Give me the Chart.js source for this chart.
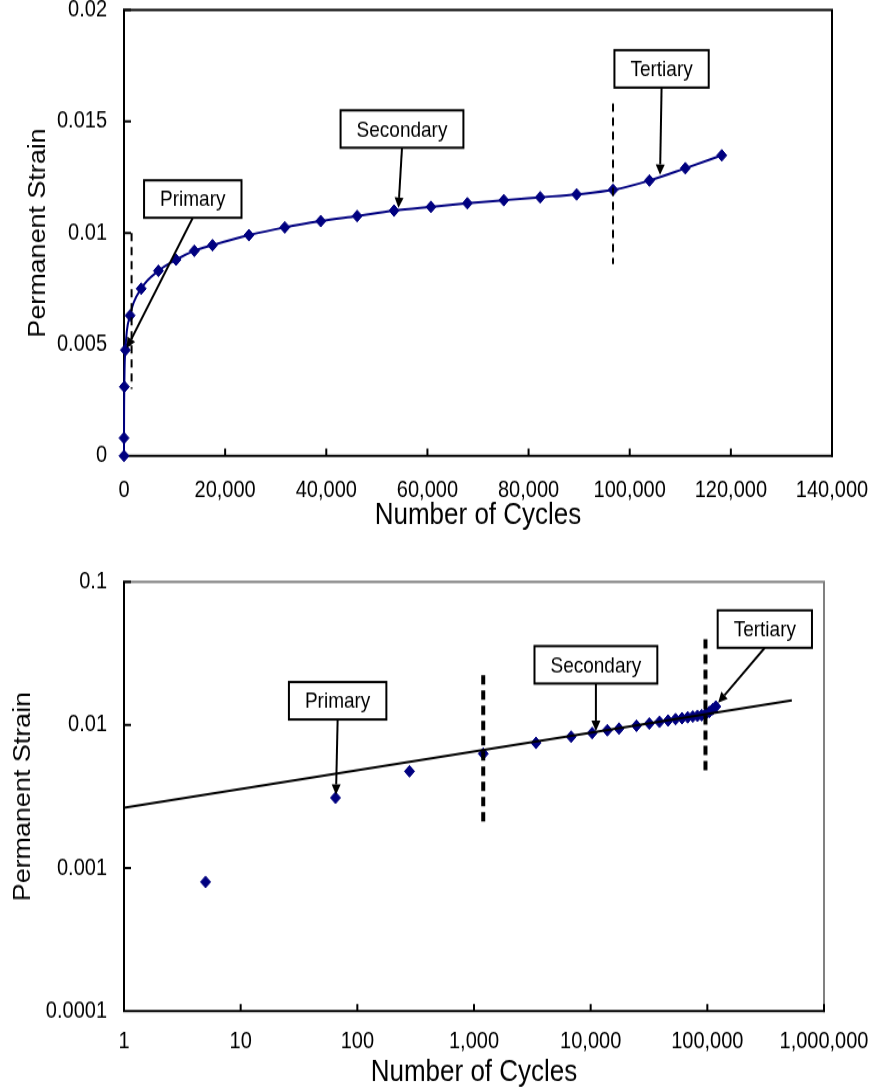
<!DOCTYPE html>
<html>
<head>
<meta charset="utf-8">
<script src="https://cdn.jsdelivr.net/npm/chart.js@4.4.1/dist/chart.umd.min.js"></script>
<style>
  html, body { margin: 0; padding: 0; background: #fff; overflow: hidden; }
  canvas { display: block; }
</style>
</head>
<body>
<canvas id="linear-chart" width="873" height="466"></canvas>
<canvas id="log-chart" width="873" height="470"></canvas>
<script>
// Permanent strain against load cycles
const cycles = [0, 5, 65, 280, 1200, 3400, 6800, 10300, 13900, 17500, 24700, 31800,
  38900, 46100, 53400, 60700, 67900, 75100, 82300, 89500, 96700, 103900, 111000, 118200];
const strain = [0, 0.0008, 0.0031, 0.00475, 0.0063, 0.0075, 0.0083, 0.0088, 0.0092, 0.00945,
  0.0099, 0.01025, 0.01053, 0.01076, 0.011, 0.01117, 0.01133, 0.01147, 0.0116, 0.01173,
  0.01193, 0.01235, 0.0129, 0.01348];

// power-law trend on the log-log view
const trendCycles = [1, 530000];
const trendStrain = [0.00264, 0.0149];

const linCycleTicks = [0, 20000, 40000, 60000, 80000, 100000, 120000, 140000];
const linCycleLabels = ["0", "20,000", "40,000", "60,000", "80,000", "100,000", "120,000", "140,000"];
const linStrainTicks = [0, 0.005, 0.01, 0.015, 0.02];
const linStrainLabels = ["0", "0.005", "0.01", "0.015", "0.02"];
const logCycleTicks = [1, 10, 100, 1000, 10000, 100000, 1000000];
const logCycleLabels = ["1", "10", "100", "1,000", "10,000", "100,000", "1,000,000"];
const logStrainTicks = [0.0001, 0.001, 0.01, 0.1];
const logStrainLabels = ["0.0001", "0.001", "0.01", "0.1"];

const stageNames = ["Primary", "Secondary", "Tertiary"];

// stage boundaries: cycle count and strain span of the dashed marker
const linBoundCycles = [1500, 96700];
const linBoundStrain = [[0.003, 0.01], [0.0086, 0.0158]];
const logBoundCycles = [1200, 96400];
const logBoundStrain = [[0.00194, 0.0223], [0.00455, 0.0398]];

// callout box centres and arrow tips, one per stage
const linLabelAt = [[13600, 0.01152], [54970, 0.01466], [106300, 0.01736]];
const linArrowTip = [[530, 0.00483], [54270, 0.01112], [106000, 0.0126]];
const logLabelAt = [[67.8, 0.01479], [11090, 0.02636], [311000, 0.0469]];
const logArrowTip = [[65.6, 0.00325], [11090, 0.00908], [123800, 0.01432]];

const SY = 1.17; // both canvases are stretched vertically by this factor
const FONT = "'Liberation Sans', Arial, sans-serif";
const NAVY = "#000080";

// plot frame plus tick marks pointing into the plot
function framePlugin(sideColor) {
  return {
    id: "frame",
    beforeDatasetsDraw(chart) {
      const { ctx, chartArea: a, scales: { x, y } } = chart;
      ctx.save();
      ctx.lineWidth = 2;
      ctx.lineCap = "square";
      ctx.strokeStyle = sideColor;
      ctx.beginPath();
      ctx.moveTo(a.left, a.top);
      ctx.lineTo(a.right, a.top);
      ctx.lineTo(a.right, a.bottom);
      ctx.stroke();
      ctx.strokeStyle = "#000";
      ctx.beginPath();
      ctx.moveTo(a.left, a.top);
      ctx.lineTo(a.left, a.bottom);
      ctx.lineTo(a.right, a.bottom);
      y.ticks.forEach((t) => {
        const p = y.getPixelForValue(t.value);
        ctx.moveTo(a.left, p);
        ctx.lineTo(a.left + 6, p);
      });
      x.ticks.forEach((t) => {
        const p = x.getPixelForValue(t.value);
        ctx.moveTo(p, a.bottom);
        ctx.lineTo(p, a.bottom - 6 / SY);
      });
      ctx.stroke();
      ctx.restore();
    },
  };
}

// dashed stage boundaries and the boxed stage callouts
function stagePlugin(boundCycles, boundStrain, dashWidth, dash, labelAt, arrowTip) {
  return {
    id: "stages",
    afterDatasetsDraw(chart) {
      const { ctx, scales: { x, y } } = chart;
      ctx.save();
      ctx.strokeStyle = "#000";
      ctx.lineWidth = dashWidth;
      ctx.setLineDash(dash);
      boundCycles.forEach((c, i) => {
        const px = x.getPixelForValue(c);
        ctx.beginPath();
        ctx.moveTo(px, y.getPixelForValue(boundStrain[i][1]));
        ctx.lineTo(px, y.getPixelForValue(boundStrain[i][0]));
        ctx.stroke();
      });
      ctx.setLineDash([]);
      ctx.font = `19px ${FONT}`;
      ctx.textAlign = "center";
      ctx.textBaseline = "middle";
      ctx.lineWidth = 2;
      stageNames.forEach((name, i) => {
        const cx = x.getPixelForValue(labelAt[i][0]);
        const cy = y.getPixelForValue(labelAt[i][1]);
        const w = ctx.measureText(name).width + 32;
        const h = 32;
        const sx = cx;
        const sy = cy + h / 2;
        const tx = x.getPixelForValue(arrowTip[i][0]);
        const ty = y.getPixelForValue(arrowTip[i][1]);
        const ang = Math.atan2(ty - sy, tx - sx);
        const len = 9;
        const half = 4.5;
        const bx = tx - len * Math.cos(ang);
        const by = ty - len * Math.sin(ang);
        ctx.fillStyle = "#000";
        ctx.beginPath();
        ctx.moveTo(sx, sy);
        ctx.lineTo(bx, by);
        ctx.stroke();
        ctx.beginPath();
        ctx.moveTo(tx, ty);
        ctx.lineTo(bx + half * Math.sin(ang), by - half * Math.cos(ang));
        ctx.lineTo(bx - half * Math.sin(ang), by + half * Math.cos(ang));
        ctx.closePath();
        ctx.fill();
        ctx.fillStyle = "#fff";
        ctx.fillRect(cx - w / 2, cy - h / 2, w, h);
        ctx.strokeRect(cx - w / 2, cy - h / 2, w, h);
        ctx.fillStyle = "#000";
        ctx.fillText(name, cx, cy + 1);
      });
      ctx.restore();
    },
  };
}

function axis(type, min, max, values, labels, opts) {
  return {
    type,
    min,
    max,
    grid: { display: false, drawTicks: false },
    border: { display: false },
    afterBuildTicks: (s) => {
      s.ticks = values.map((v) => ({ value: v }));
    },
    afterFit: (s) => {
      if (opts.width) s.width = opts.width;
      if (opts.height) s.height = opts.height;
      // the plot area is placed by the layout padding alone
      s.paddingTop = s.paddingBottom = s.paddingLeft = s.paddingRight = 0;
    },
    ticks: {
      color: "#000",
      font: { family: FONT, size: 20 },
      padding: opts.tickPad,
      autoSkip: false,
      maxRotation: 0,
      callback: (v, i) => labels[i],
    },
    title: {
      display: true,
      text: opts.title,
      color: "#000",
      font: { family: FONT, size: opts.titleSize },
      padding: opts.titlePad,
    },
  };
}

function stretch(canvas) {
  canvas.style.width = canvas.width + "px";
  canvas.style.height = canvas.height * SY + "px";
}

const baseOptions = {
  responsive: false,
  animation: false,
  events: [],
  plugins: { legend: { display: false }, tooltip: { enabled: false } },
};

const points = cycles.map((c, i) => ({ x: c, y: strain[i] }));

// linear view
const linCanvas = document.getElementById("linear-chart");
stretch(linCanvas);
new Chart(linCanvas.getContext("2d"), {
  type: "scatter",
  data: {
    datasets: [
      {
        data: points,
        showLine: true,
        borderColor: NAVY,
        borderWidth: 2,
        backgroundColor: NAVY,
        pointStyle: "rectRot",
        pointRadius: 5,
        pointBorderWidth: 1,
        tension: 0.4,
        cubicInterpolationMode: "monotone",
        clip: false,
      },
    ],
  },
  options: {
    ...baseOptions,
    layout: { autoPadding: false, padding: { top: 10 / SY, right: 41, bottom: 0, left: 0 } },
    scales: {
      x: axis("linear", 0, 140000, linCycleTicks, linCycleLabels, {
        height: linCanvas.height - 456 / SY, tickPad: 17.9,
        title: "Number of Cycles", titleSize: 26, titlePad: { top: 0, bottom: 9.4 },
      }),
      y: axis("linear", 0, 0.02, linStrainTicks, linStrainLabels, {
        width: 124, tickPad: 17,
        title: "Permanent Strain", titleSize: 23, titlePad: { top: 25, bottom: 0 },
      }),
    },
  },
  plugins: [framePlugin("#000"), stagePlugin(linBoundCycles, linBoundStrain, 2, [7, 5], linLabelAt, linArrowTip)],
});

// log-log view with trend
const logCanvas = document.getElementById("log-chart");
stretch(logCanvas);
new Chart(logCanvas.getContext("2d"), {
  type: "scatter",
  data: {
    datasets: [
      {
        data: trendCycles.map((c, i) => ({ x: c, y: trendStrain[i] })),
        showLine: true,
        borderColor: "#000",
        borderWidth: 2,
        pointRadius: 0,
        order: 0,
      },
      {
        data: points.filter((p) => p.x > 0),
        backgroundColor: NAVY,
        borderColor: NAVY,
        pointStyle: "rectRot",
        pointRadius: 5,
        pointBorderWidth: 1,
        clip: false,
        order: 1,
      },
    ],
  },
  options: {
    ...baseOptions,
    layout: { autoPadding: false, padding: { top: 37 / SY, right: 49, bottom: 0, left: 0 } },
    scales: {
      x: axis("logarithmic", 1, 1000000, logCycleTicks, logCycleLabels, {
        height: logCanvas.height - 466 / SY, tickPad: 14.5,
        title: "Number of Cycles", titleSize: 26, titlePad: { top: 0, bottom: 3.3 },
      }),
      y: axis("logarithmic", 0.0001, 0.1, logStrainTicks, logStrainLabels, {
        width: 124, tickPad: 17,
        title: "Permanent Strain", titleSize: 23, titlePad: { top: 10, bottom: 0 },
      }),
    },
  },
  plugins: [framePlugin("#808080"), stagePlugin(logBoundCycles, logBoundStrain, 4, [8, 5], logLabelAt, logArrowTip)],
});
</script>
</body>
</html>
